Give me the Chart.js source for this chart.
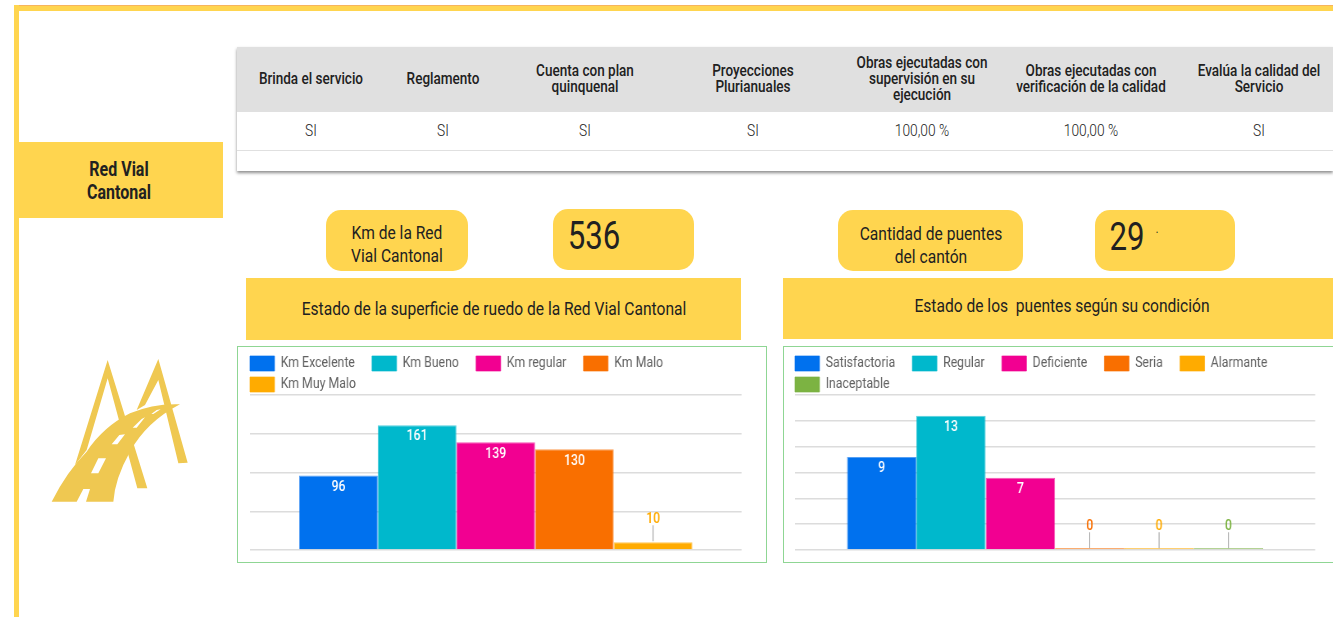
<!DOCTYPE html>
<html>
<head>
<meta charset="utf-8">
<script src="https://cdn.jsdelivr.net/npm/chart.js@4/dist/chart.umd.js"></script>
<style>
html, body { margin: 0; padding: 0; background: #fff; overflow: hidden; width: 1333px; height: 617px; }
body { position: relative; font-family: Roboto, sans-serif; color: #212121; }
.box { position: absolute; }
.yellow { background: #ffd54f; }
.t { position: absolute; white-space: nowrap; text-align: center; transform: translate(-50%, -50%) scaleX(.82); }
.plot { position: absolute; transform: scaleX(.82); transform-origin: 0 0; }
</style>
</head>
<body>
<div class="box yellow" style="left:14px;top:5px;width:1319px;height:6px"></div>
<div class="box" style="left:14px;top:5px;width:1319px;height:1px;background:#f7b45c"></div>
<div class="box yellow" style="left:14px;top:5px;width:5px;height:612px"></div>
<div class="box yellow" style="left:19px;top:142px;width:204px;height:76px"></div>

<div class="box" style="left:237px;top:47px;width:1096px;height:124px;box-shadow:0 2px 3px rgba(0,0,0,.45)"></div>
<div class="box" style="left:237px;top:47px;width:1096px;height:65px;background:#e0e0e0"></div>
<div class="box" style="left:237px;top:150px;width:1096px;height:1px;background:#e0e0e0"></div>

<div class="box yellow" style="left:326px;top:210px;width:142px;height:61px;border-radius:15px"></div>
<div class="box yellow" style="left:553px;top:209px;width:141px;height:61px;border-radius:15px"></div>
<div class="box yellow" style="left:838px;top:210px;width:185px;height:61px;border-radius:15px"></div>
<div class="box yellow" style="left:1095px;top:210px;width:140px;height:61px;border-radius:15px"></div>
<div class="box yellow" style="left:246px;top:278px;width:495px;height:62px"></div>
<div class="box yellow" style="left:783px;top:278px;width:550px;height:61px"></div>

<div class="box" style="left:237px;top:346px;width:528px;height:215px;border:1px solid #8fd694"></div>
<div class="box" style="left:783px;top:346px;width:560px;height:215px;border:1px solid #8fd694"></div>

<svg class="box" style="left:30px;top:345px" width="175" height="170" viewBox="0 0 525 510">
  <path fill="#efc851" d="M233 45 L352 430 L322 430 L233 100 L170 315 L135 360 Z"/>
  <path fill="#efc851" d="M385 42 L473 353 L445 355 L385 105 L345 180 L320 195 Z"/>
  <path fill="#efc851" d="M65 470 L140 470 L160 432 L180 432 L168 470 L250 470 Q255 400 300 320 Q350 230 450 178 Q370 175 300 205 Q220 245 170 320 Q110 380 65 470 Z"/>
  <path fill="#fff" d="M205 340 L228 340 L205 385 L183 385 Z M268 270 L285 268 L262 298 L245 298 Z M335 222 L345 217 L320 248 L308 248 Z M380 195 L392 193 L370 207 L364 207 Z"/>
</svg>

<div class="plot" style="left:244.6px;top:350px"><canvas id="roadChart" width="630" height="204"></canvas></div>
<div class="plot" style="left:790.1px;top:350px"><canvas id="bridgeChart" width="677" height="204"></canvas></div>

<script>
const tableHeaders = ['Brinda el servicio', 'Reglamento', 'Cuenta con plan<br>quinquenal', 'Proyecciones<br>Plurianuales',
  'Obras ejecutadas con<br>supervisión en su<br>ejecución', 'Obras ejecutadas con<br>verificación de la calidad', 'Evalúa la calidad del<br>Servicio'];
const tableValues = ['SI', 'SI', 'SI', 'SI', '100,00 %', '100,00 %', 'SI'];
const tableCenters = [311, 443, 585, 753, 922, 1091, 1259];

const roadLabels = ['Km Excelente', 'Km Bueno', 'Km regular', 'Km Malo', 'Km Muy Malo'];
const roadValues = [96, 161, 139, 130, 10];
const bridgeLabels = ['Satisfactoria', 'Regular', 'Deficiente', 'Seria', 'Alarmante', 'Inaceptable'];
const bridgeValues = [9, 13, 7, 0, 0, 0];
const seriesColors = ['#0071ee', '#00b8cc', '#f20091', '#f96f00', '#ffab00', '#7cb342'];

function addText(html, x, y, size, weight, lineHeight) {
  const el = document.createElement('div');
  el.className = 't';
  el.innerHTML = html;
  el.style.left = x + 'px';
  el.style.top = y + 'px';
  el.style.fontSize = size + 'px';
  el.style.fontWeight = weight || 400;
  el.style.lineHeight = (lineHeight || size * 1.2) + 'px';
  document.body.appendChild(el);
}

tableHeaders.forEach((h, i) => {
  addText(h, tableCenters[i], 79, 16.5, 500, 16);
  addText(tableValues[i], tableCenters[i], 130, 16.8, 300);
});
addText('Red Vial<br>Cantonal', 118.5, 181, 19.5, 700, 23);
addText('Km de la Red<br>Vial Cantonal', 397, 244, 19, 400, 23);
addText('536', 594, 237, 38);
addText('Cantidad de puentes<br>del cantón', 930.5, 244.5, 19, 400, 23);
addText('29', 1127, 238, 38);
addText('.', 1157, 229, 12);
addText('Estado de la superficie de ruedo de la Red Vial Cantonal', 494, 309, 19);
addText('Estado de los&nbsp; puentes según su condición', 1062, 306, 19);

// value labels: white inside the tall bars, coloured with a leader line above the short ones
const barLabels = {
  id: 'barLabels',
  beforeInit(chart) {
    // the legend reserves more room under itself than the reference has
    const fit = chart.legend.fit;
    chart.legend.fit = function () {
      fit.call(this);
      this.height -= 7;
    };
  },
  afterDatasetsDraw(chart) {
    const ctx = chart.ctx;
    ctx.save();
    ctx.font = '500 15px Roboto';
    ctx.textAlign = 'center';
    ctx.textBaseline = 'middle';
    chart.data.datasets.forEach((ds, i) => {
      const bar = chart.getDatasetMeta(i).data[0];
      const value = ds.data[0];
      if (bar.base - bar.y > 25) {
        ctx.fillStyle = '#fff';
        ctx.fillText(value, bar.x, bar.y + 11.5);
      } else {
        const top = value === 0 ? bar.base : bar.y;
        ctx.strokeStyle = '#999';
        ctx.lineWidth = 1;
        ctx.beginPath();
        ctx.moveTo(bar.x, top - 1);
        ctx.lineTo(bar.x, top - 17);
        ctx.stroke();
        ctx.fillStyle = seriesColors[i];
        ctx.fillText(value, bar.x, top - 23);
      }
    });
    ctx.restore();
  }
};

function makeChart(id, labels, values, yMax, yStep, rightPad) {
  return new Chart(document.getElementById(id), {
    type: 'bar',
    data: {
      labels: [''],
      datasets: labels.map((label, i) => ({
        label: label,
        data: [values[i]],
        backgroundColor: c => c.raw === 0 ? seriesColors[i] + '77' : seriesColors[i],
        borderColor: seriesColors[i] + 'aa',
        borderWidth: 1,
        minBarLength: 2,
        barPercentage: 1,
        categoryPercentage: 0.8
      }))
    },
    options: {
      responsive: false,
      animation: false,
      layout: { padding: { right: rightPad, bottom: 4 } },
      scales: {
        x: { display: false },
        y: {
          min: 0,
          max: yMax,
          afterFit: s => { s.width = 6; },
          ticks: { display: false, stepSize: yStep },
          border: { display: false },
          grid: { color: '#dcdcdc', lineWidth: 1.5, drawTicks: false }
        }
      },
      plugins: {
        tooltip: { enabled: false },
        legend: {
          position: 'top',
          align: 'start',
          labels: {
            boxWidth: 30,
            boxHeight: 15,
            padding: 6,
            color: '#616161',
            font: { family: 'Roboto', size: 15 },
            generateLabels: chart => Chart.defaults.plugins.legend.labels.generateLabels(chart)
              .map(item => ({ ...item, fillStyle: seriesColors[item.datasetIndex], text: item.text + '\u00a0\u00a0\u00a0\u00a0' }))
          }
        }
      }
    },
    plugins: [barLabels]
  });
}

makeChart('roadChart', roadLabels, roadValues, 200, 50, 24.4);
makeChart('bridgeChart', bridgeLabels, bridgeValues, 15, 2.5, 36.6);
</script>
</body>
</html>
